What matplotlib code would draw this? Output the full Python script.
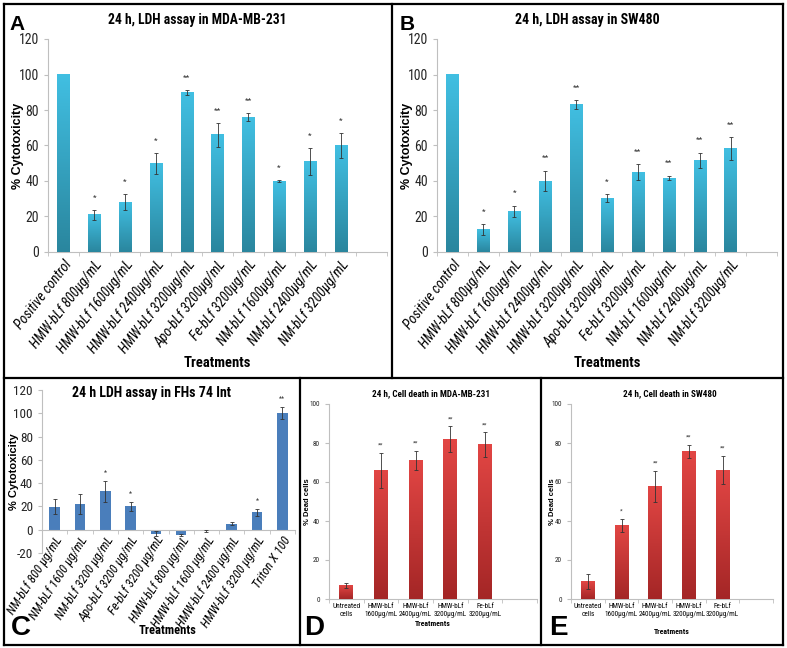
import matplotlib
matplotlib.use("Agg")
import matplotlib.pyplot as plt
import numpy as np
from matplotlib.colors import LinearSegmentedColormap
from matplotlib.lines import Line2D
from matplotlib import font_manager

W, H = 787, 648

# LDH assay, MDA-MB-231 and SW480 (panels A, B)
ldh_labels = ["Positive control", "HMW-bLf 800µg/mL", "HMW-bLf 1600µg/mL",
              "HMW-bLf 2400µg/mL", "HMW-bLf 3200µg/mL", "Apo-bLf 3200µg/mL",
              "Fe-bLf 3200µg/mL", "NM-bLf 1600µg/mL", "NM-bLf 2400µg/mL",
              "NM-bLf 3200µg/mL"]
mda_ldh = [100, 21, 28, 50, 90, 66, 76, 40, 51, 60]
mda_ldh_err = [0, 2.7, 4.5, 5.8, 1.3, 6.7, 2.3, 0.3, 7.5, 6.8]
mda_ldh_sig = ["", "*", "*", "*", "**", "**", "**", "*", "*", "*"]
sw_ldh = [100, 12.5, 22.8, 40, 83, 30.3, 45, 41.6, 51.7, 58.4]
sw_ldh_err = [0, 3.2, 3.2, 5.7, 2.4, 2.3, 4.5, 1.3, 4.3, 6.4]
sw_ldh_sig = ["", "*", "*", "**", "**", "*", "**", "**", "**", "**"]

# LDH assay, FHs 74 Int (panel C)
fhs_labels = ["NM-bLf 800 µg/mL", "NM-bLf 1600 µg/mL", "NM-bLf 3200 µg/mL",
              "Apo-bLf 3200 µg/mL", "Fe-bLf 3200 µg/mL", "HMW-bLf 800 µg/mL",
              "HMW-bLf 1600 µg/mL", "HMW-bLf 2400 µg/mL", "HMW-bLf 3200 µg/mL",
              "Triton X 100"]
fhs_ldh = [19.7, 22, 33, 20, -3.5, -4.6, -1, 5.3, 15, 100]
fhs_ldh_err = [6.6, 8.6, 9, 4, 2, 1, 1, 1.5, 3, 5]
fhs_ldh_sig = ["", "", "*", "*", "", "", "", "", "*", "**"]

# cell death (panels D, E)
death_labels = ["Untreated\ncells", "HMW-bLf\n1600µg/mL", "HMW-bLf\n2400µg/mL",
                "HMW-bLf\n3200µg/mL", "Fe-bLf\n3200µg/mL"]
mda_death = [6.8, 66, 71, 82, 79]
mda_death_err = [1.3, 9, 4.8, 6.5, 6.4]
mda_death_sig = ["", "**", "**", "**", "**"]
sw_death = [8.9, 37.8, 57.5, 75.7, 66]
sw_death_err = [4, 3.4, 8, 3.4, 7.2]
sw_death_sig = ["", "*", "**", "**", "**"]

# pick a narrow font if one is installed, else shrink the sizes
installed = {f.name for f in font_manager.fontManager.ttflist}
narrow = None
for name in ["Liberation Sans Narrow", "Arial Narrow", "Roboto Condensed",
             "DejaVu Sans Condensed", "Open Sans Condensed"]:
    if name in installed:
        narrow = name
        break
if narrow:
    plt.rcParams["font.family"] = [narrow, "Liberation Sans", "DejaVu Sans"]
    k = 1.0
else:
    plt.rcParams["font.family"] = ["Liberation Sans", "DejaVu Sans"]
    k = 0.8
plt.rcParams["axes.unicode_minus"] = False


def px_axes(fig, left, right, top, bottom):
    return fig.add_axes([left / W, 1 - bottom / H, (right - left) / W, (bottom - top) / H])


def fig_text(fig, x, y, s, **kw):
    fig.text(x / W, 1 - y / H, s, **kw)


def style_axes(ax, n_slots, ylim, yticks, fs):
    ax.set_xlim(-0.5, n_slots - 0.5)
    ax.set_ylim(*ylim)
    ax.set_yticks(yticks)
    for side in ["top", "right"]:
        ax.spines[side].set_visible(False)
    for side in ["left", "bottom"]:
        ax.spines[side].set_color("#bfbfbf")
        ax.spines[side].set_linewidth(0.8)
    ax.set_xticks(np.arange(n_slots + 1) - 0.5, minor=True)
    ax.tick_params(axis="x", which="minor", length=3, color="#bfbfbf")
    ax.tick_params(axis="x", which="major", length=0)
    ax.tick_params(axis="y", length=3, color="#bfbfbf", labelsize=fs, labelcolor="#262626")


def draw_bars(ax, values, errors, sigs, width, top_color, bottom_color, star_off, star_fs):
    x = np.arange(len(values))
    ax.bar(x, values, width=width, color=bottom_color, zorder=2)
    if top_color is not None:
        cmap = LinearSegmentedColormap.from_list("g", [bottom_color, top_color])
        grad = np.linspace(0, 1, 128).reshape(-1, 1)
        for xi, v in zip(x, values):
            ax.imshow(grad, extent=(xi - width / 2, xi + width / 2, 0, v), origin="lower",
                      aspect="auto", cmap=cmap, zorder=3)
    for xi, v, e in zip(x, values, errors):
        if e > 0:
            ax.errorbar(xi, v, yerr=e, fmt="none", ecolor="#333333", elinewidth=0.6,
                        capsize=1.5, capthick=0.6, zorder=4)
    for xi, v, e, s in zip(x, values, errors, sigs):
        if s:
            top = v + e if v >= 0 else e
            ax.annotate(s, (xi, top), xytext=(0, star_off), textcoords="offset points",
                        ha="center", va="center", fontsize=star_fs, color="#333333")


def ldh_panel(fig, rect, values, errors, sigs, title, title_fs, letter, xoff):
    ax = px_axes(fig, *rect)
    draw_bars(ax, values, errors, sigs, 0.4, "#41bfe2", "#2a869e", 9, 6)
    style_axes(ax, 11, (0, 120), range(0, 121, 20), 10 * k)
    ax.set_xticks(np.arange(len(ldh_labels)))
    ax.set_xticklabels(ldh_labels, rotation=52, ha="right", va="top",
                       rotation_mode="anchor", style="italic", fontsize=10 * k)
    ax.tick_params(axis="x", which="major", pad=4)
    ax.set_ylabel("% Cytotoxicity", fontsize=9, fontweight="bold", fontfamily="Liberation Sans")
    ax.yaxis.set_label_coords(-24 / 339, 0.5)
    fig_text(fig, xoff + 217, 363, "Treatments", ha="center", va="center",
             fontsize=10.5 * k, fontweight="bold")
    fig_text(fig, xoff + 197, 20, title, ha="center", va="center",
             fontsize=title_fs * k, fontweight="bold")
    fig_text(fig, xoff + 17.5, 25, letter, ha="center", va="center",
             fontsize=15, fontweight="bold", fontfamily="Liberation Sans")
    return ax


def fhs_panel(fig):
    ax = px_axes(fig, 42, 295, 390, 553)
    draw_bars(ax, fhs_ldh, fhs_ldh_err, fhs_ldh_sig, 0.42, None, "#4a7ebb", 5.5, 5)
    style_axes(ax, 10, (-20, 120), range(-20, 121, 20), 9.5 * k)
    ax.spines["bottom"].set_position(("data", 0))
    ax.set_xticks(np.arange(len(fhs_labels)))
    ax.set_xticklabels(fhs_labels, rotation=57, ha="right", va="top",
                       rotation_mode="anchor", style="italic", fontsize=9 * k)
    ax.tick_params(axis="x", which="major", pad=3)
    ax.set_ylabel("% Cytotoxicity", fontsize=8, fontweight="bold", fontfamily="Liberation Sans")
    ax.yaxis.set_label_coords(-23 / 253, 0.5)
    fig_text(fig, 168, 630, "Treatments", ha="center", va="center",
             fontsize=9 * k, fontweight="bold")
    fig_text(fig, 152, 393, "24 h LDH assay in FHs 74 Int", ha="center", va="center",
             fontsize=10 * k, fontweight="bold")
    fig_text(fig, 21, 628, "C", ha="center", va="center",
             fontsize=20, fontweight="bold", fontfamily="Liberation Sans")


def death_panel(fig, left, right, values, errors, sigs, title, letter, ylab_x, letter_x, treat_y):
    ax = px_axes(fig, left, right, 404, 599)
    draw_bars(ax, values, errors, sigs, 0.4, "#e24644", "#a42626", 5.5, 4.5)
    style_axes(ax, 6, (0, 100), range(0, 101, 20), 5.2 * k)
    ax.set_xticks(np.arange(len(death_labels)))
    ax.set_xticklabels(death_labels, fontsize=5.2 * k, linespacing=1.25)
    ax.tick_params(axis="x", which="major", pad=3)
    ax.set_ylabel("% Dead cells", fontsize=5.5, fontweight="bold", fontfamily="Liberation Sans")
    ax.yaxis.set_label_coords((ylab_x - left) / (right - left), 0.5)
    fig_text(fig, (left + right) / 2, treat_y, "Treatments", ha="center", va="center",
             fontsize=5.6 * k, fontweight="bold")
    fig_text(fig, (left + right) / 2 - 2, 394, title, ha="center", va="center",
             fontsize=6.6 * k, fontweight="bold")
    fig_text(fig, letter_x, 628, letter, ha="center", va="center",
             fontsize=20, fontweight="bold", fontfamily="Liberation Sans")


fig = plt.figure(figsize=(W / 100, H / 100), dpi=100)

ldh_panel(fig, (48, 387, 39, 252), mda_ldh, mda_ldh_err, mda_ldh_sig,
          "24 h, LDH assay in MDA-MB-231", 9.8, "A", 0)
ldh_panel(fig, (437, 777, 39, 252), sw_ldh, sw_ldh_err, sw_ldh_sig,
          "24 h, LDH assay in SW480", 10, "B", 390)
fhs_panel(fig)
death_panel(fig, 329, 537, mda_death, mda_death_err, mda_death_sig,
            "24 h, Cell death in MDA-MB-231", "D", 311, 314, 623)
death_panel(fig, 571, 773, sw_death, sw_death_err, sw_death_sig,
            "24 h, Cell death in SW480", "E", 556, 558, 632)

# panel borders
segments = [
    ((4, 783), (4, 4)), ((4, 783), (645, 645)), ((4, 4), (4, 645)), ((783, 783), (4, 645)),
    ((4, 783), (378, 378)), ((392, 392), (4, 378)), ((300, 300), (378, 645)),
    ((541, 541), (378, 645)),
]
for xs, ys in segments:
    fig.add_artist(Line2D([x / W for x in xs], [1 - y / H for y in ys],
                          transform=fig.transFigure, color="black", lw=1.6))

fig.savefig("out.png", dpi=100)
